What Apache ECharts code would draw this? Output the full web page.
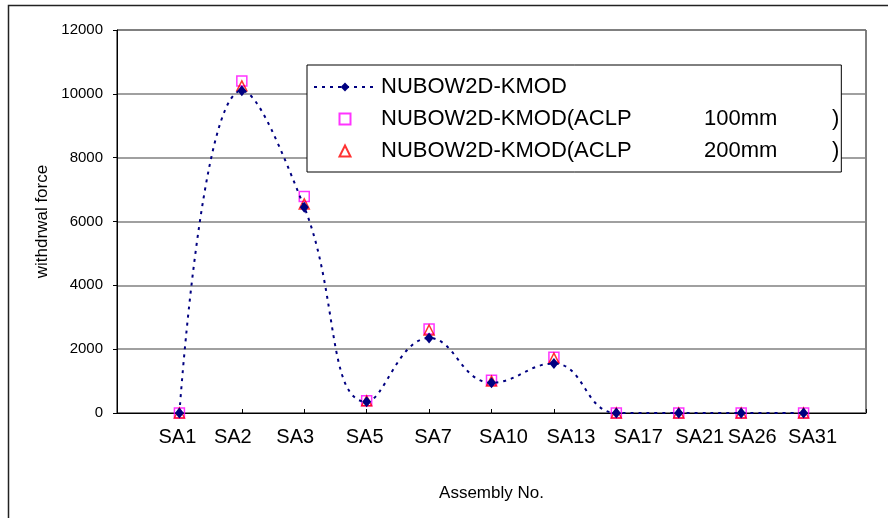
<!DOCTYPE html>
<html>
<head>
<meta charset="utf-8">
<title>withdrwal force</title>
<script src="https://cdn.jsdelivr.net/npm/echarts@6/dist/echarts.min.js"></script>
<style>
  html, body { margin: 0; padding: 0; background: #fff; }
  #chart { width: 888px; height: 518px; }
</style>
</head>
<body>
<div id="chart"></div>
<script>
// Assemblies along the horizontal axis
const assemblies = ['SA1', 'SA2', 'SA3', 'SA5', 'SA7', 'SA10', 'SA13', 'SA17', 'SA21', 'SA26', 'SA31'];

// Withdrawal force for each assembly
const kmod     = [0, 10100, 6450, 350, 2350, 950, 1550, 0, 0, 0, 0];
const aclp100  = [0, 10400, 6780, 380, 2630, 1030, 1750, 0, 0, 0, 0];
const aclp200  = [0, 10250, 6550, 380, 2600, 1000, 1720, 0, 0, 0, 0];

const seriesNames = [
  'NUBOW2D-KMOD',
  'NUBOW2D-KMOD(ACLP 100mm)',
  'NUBOW2D-KMOD(ACLP 200mm)'
];

// Y axis range
const yMin = 0, yMax = 12000, yStep = 2000;

const FONT = '"Liberation Sans", Arial, sans-serif';

// Outline shapes used for the hollow markers (kept square in the legend)
const SQUARE_PATH = 'path://M0,0L10,0L10,10L0,10Z';
const TRIANGLE_PATH = 'path://M5,0L10,10L0,10Z';

// Horizontal nudges (px) for the category labels
const labelNudge = [-2, -9, -9, -2, 4, 12, 17, 22, 21, 11, 9];
const labelRich = {};
labelNudge.forEach((d, i) => {
  labelRich['n' + i] = {
    fontFamily: FONT, fontSize: 20, color: '#000',
    padding: d >= 0 ? [0, 0, 0, 2 * d] : [0, -2 * d, 0, 0]
  };
});

const toPoints = arr => arr.map((v, i) => [i + 1, v]);

const chart = echarts.init(document.getElementById('chart'), null, { renderer: 'canvas' });

chart.setOption({
  backgroundColor: '#fff',
  animation: false,
  graphic: [{
    type: 'rect',
    left: 6, top: 3,
    shape: { x: 0, y: 0, width: 1000, height: 700 },
    style: { fill: 'none', stroke: '#222', lineWidth: 1.5 },
    silent: true, z: -1
  }],
  grid: {
    left: 117, right: 22, top: 30, bottom: 105,
    show: true, borderColor: '#000', borderWidth: 1, backgroundColor: 'transparent'
  },
  legend: {
    orient: 'vertical',
    left: 307, top: 65,
    padding: [10, 2, 9, 6],
    backgroundColor: '#fff',
    borderColor: '#000', borderWidth: 1,
    itemWidth: 62, itemHeight: 11, itemGap: 8,
    symbolKeepAspect: true,
    textStyle: {
      fontFamily: FONT, fontSize: 22, color: '#000', lineHeight: 24,
      rich: {
        a: { fontFamily: FONT, fontSize: 22, width: 323, lineHeight: 24 },
        b: { fontFamily: FONT, fontSize: 22, width: 128, lineHeight: 24 },
        c: { fontFamily: FONT, fontSize: 22, lineHeight: 24 }
      }
    },
    formatter: name => {
      const m = name.match(/^(.*\(ACLP)\s*(\d+mm)\s*\)$/);
      if (!m) return name;
      return '{a|' + m[1] + '}{b|' + m[2] + '}{c|)}';
    },
    data: [
      { name: seriesNames[0] },
      { name: seriesNames[1], icon: SQUARE_PATH },
      { name: seriesNames[2], icon: TRIANGLE_PATH }
    ]
  },
  xAxis: {
    type: 'value',
    min: 0, max: assemblies.length + 1, interval: 1,
    name: 'Assembly No.',
    nameLocation: 'middle',
    nameGap: 72,
    nameTextStyle: { fontFamily: FONT, fontSize: 17, color: '#000' },
    axisLine: { show: true, onZero: false, lineStyle: { color: '#000', width: 1 } },
    axisTick: { show: true, inside: true, length: 4, lineStyle: { color: '#000' } },
    splitLine: { show: false },
    axisLabel: {
      margin: 14,
      fontFamily: FONT, fontSize: 20, color: '#000',
      showMinLabel: true, showMaxLabel: true,
      formatter: v => {
        const i = Math.round(v) - 1;
        if (i < 0 || i >= assemblies.length) return '';
        return '{n' + i + '|' + assemblies[i] + '}';
      },
      rich: labelRich
    }
  },
  yAxis: {
    type: 'value',
    min: yMin, max: yMax, interval: yStep,
    name: 'withdrwal force',
    nameLocation: 'middle',
    nameGap: 64,
    nameTextStyle: { fontFamily: FONT, fontSize: 17, color: '#000' },
    axisLine: { show: true, lineStyle: { color: '#000', width: 1 } },
    axisTick: { show: true, inside: false, length: 4, lineStyle: { color: '#000' } },
    splitLine: { show: true, lineStyle: { color: '#808080', width: 1.5 } },
    axisLabel: {
      margin: 14, fontFamily: FONT, fontSize: 15, color: '#000',
      formatter: v => String(v)
    }
  },
  series: [
    {
      name: seriesNames[0],
      type: 'line',
      data: toPoints(kmod),
      smooth: 0.45,
      clip: false,
      symbol: 'diamond',
      symbolSize: [9, 11],
      itemStyle: { color: '#000080' },
      lineStyle: { color: '#000080', width: 2, type: [3, 5] }
    },
    {
      name: seriesNames[1],
      type: 'scatter',
      data: toPoints(aclp100),
      clip: false,
      symbol: SQUARE_PATH,
      symbolSize: 10,
      itemStyle: { color: 'rgba(255,255,255,0)', borderColor: '#ff00ff', borderWidth: 1.5 }
    },
    {
      name: seriesNames[2],
      type: 'scatter',
      data: toPoints(aclp200),
      clip: false,
      symbol: TRIANGLE_PATH,
      symbolSize: 10,
      itemStyle: { color: 'rgba(255,255,255,0)', borderColor: '#ff0000', borderWidth: 1.5 }
    }
  ]
});
</script>
</body>
</html>
